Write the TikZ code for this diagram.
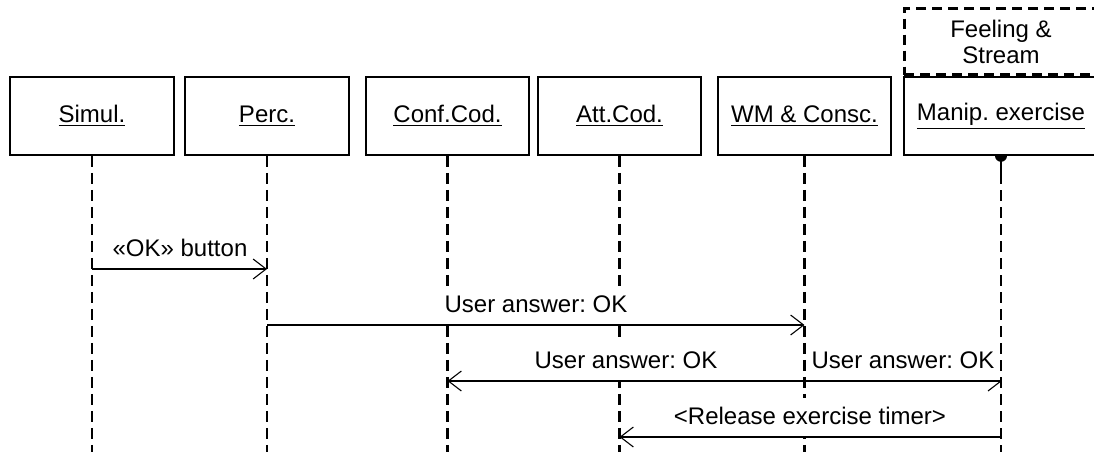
\documentclass[tikz,border=0pt]{standalone}
\usepackage{fontspec}
\setmainfont{Liberation Sans}
\usetikzlibrary{arrows.meta}
\begin{document}
\frenchspacing
\begin{tikzpicture}[x=0.5pt,y=-0.5pt,
  every node/.style={font=\fontsize{12}{13}\selectfont, inner sep=0pt},
  obj/.style={draw, line width=0.8pt, minimum height=39pt, fill=white},
  life/.style={line width=1.25pt, dash pattern=on 5.5pt off 3pt},
  msg/.style={line width=0.55pt, -{Straight Barb[length=6.5pt,width=10pt,line width=0.55pt]}},
  lbl/.style={anchor=base, fill=white, text height=9pt, text depth=2pt, inner xsep=1pt, inner ysep=4pt}]
\useasboundingbox (0,0) rectangle (1094,451);
\clip (0,0) rectangle (1094,451);
% objects
\node[obj, minimum width=82pt]   (simul) at (92,116)    {\underline{Simul.}};
\node[obj, minimum width=82pt]   (perc)  at (267,116)   {\underline{Perc.}};
\node[obj, minimum width=81.5pt] (conf)  at (447.5,116) {\underline{Conf.Cod.}};
\node[obj, minimum width=81.5pt] (att)   at (619.5,116) {\underline{Att.Cod.}};
\node[obj, minimum width=86.5pt] (wm)    at (804.5,116) {\underline{WM \& Consc.}};
\node[obj, minimum width=97pt]   (manip) at (1001,116)  {\underline{Manip. exercise}};
\node[draw, line width=1.5pt, dash pattern=on 5pt off 3pt, minimum width=97pt, minimum height=33pt, align=center, anchor=south]
  (feel) at (manip.north) {Feeling \&\\Stream};
% lifelines
\coordinate (bot) at (0,455);
\draw[life] (simul.south) -- (simul.south |- bot);
\draw[life] (perc.south)  -- (perc.south |- bot);
\draw[life] (conf.south)  -- (conf.south |- bot);
\draw[life] (att.south)   -- (att.south |- bot);
\draw[life] (wm.south)    -- (wm.south |- bot);
\coordinate (stem) at (1001,173);
\fill (manip.south) ++(-3pt,0) arc[start angle=180, end angle=360, radius=3pt] -- cycle;
\draw[line width=1.25pt] (manip.south) -- (stem);
\draw[life] (stem) -- (stem |- bot);
% labels (white backgrounds hide the lifelines behind them)
\node[lbl] (l1) at (180,256) {«OK» button};
\node[lbl] (l2) at (536,312) {User answer: OK};
\node[lbl] (l3) at (626,368) {User answer: OK};
\node[lbl] (l3b) at (903,368) {User answer: OK};
\node[lbl] (l4) at (810,424) {<Release exercise timer>};
% message levels
\coordinate (m1) at (0,269);
\coordinate (m2) at (0,325);
\coordinate (m3) at (0,381);
\coordinate (m4) at (0,437);
% messages
\draw[msg] (simul |- m1) -- (perc |- m1);
\draw[msg] (perc |- m2) -- (wm |- m2);
\draw[msg] (manip |- m3) -- (conf |- m3);
\coordinate (hb) at (988,391);
\draw[line width=0.55pt] (manip |- m3) -- (hb);
\draw[msg] (manip |- m4) -- (att |- m4);
\end{tikzpicture}
\end{document}
